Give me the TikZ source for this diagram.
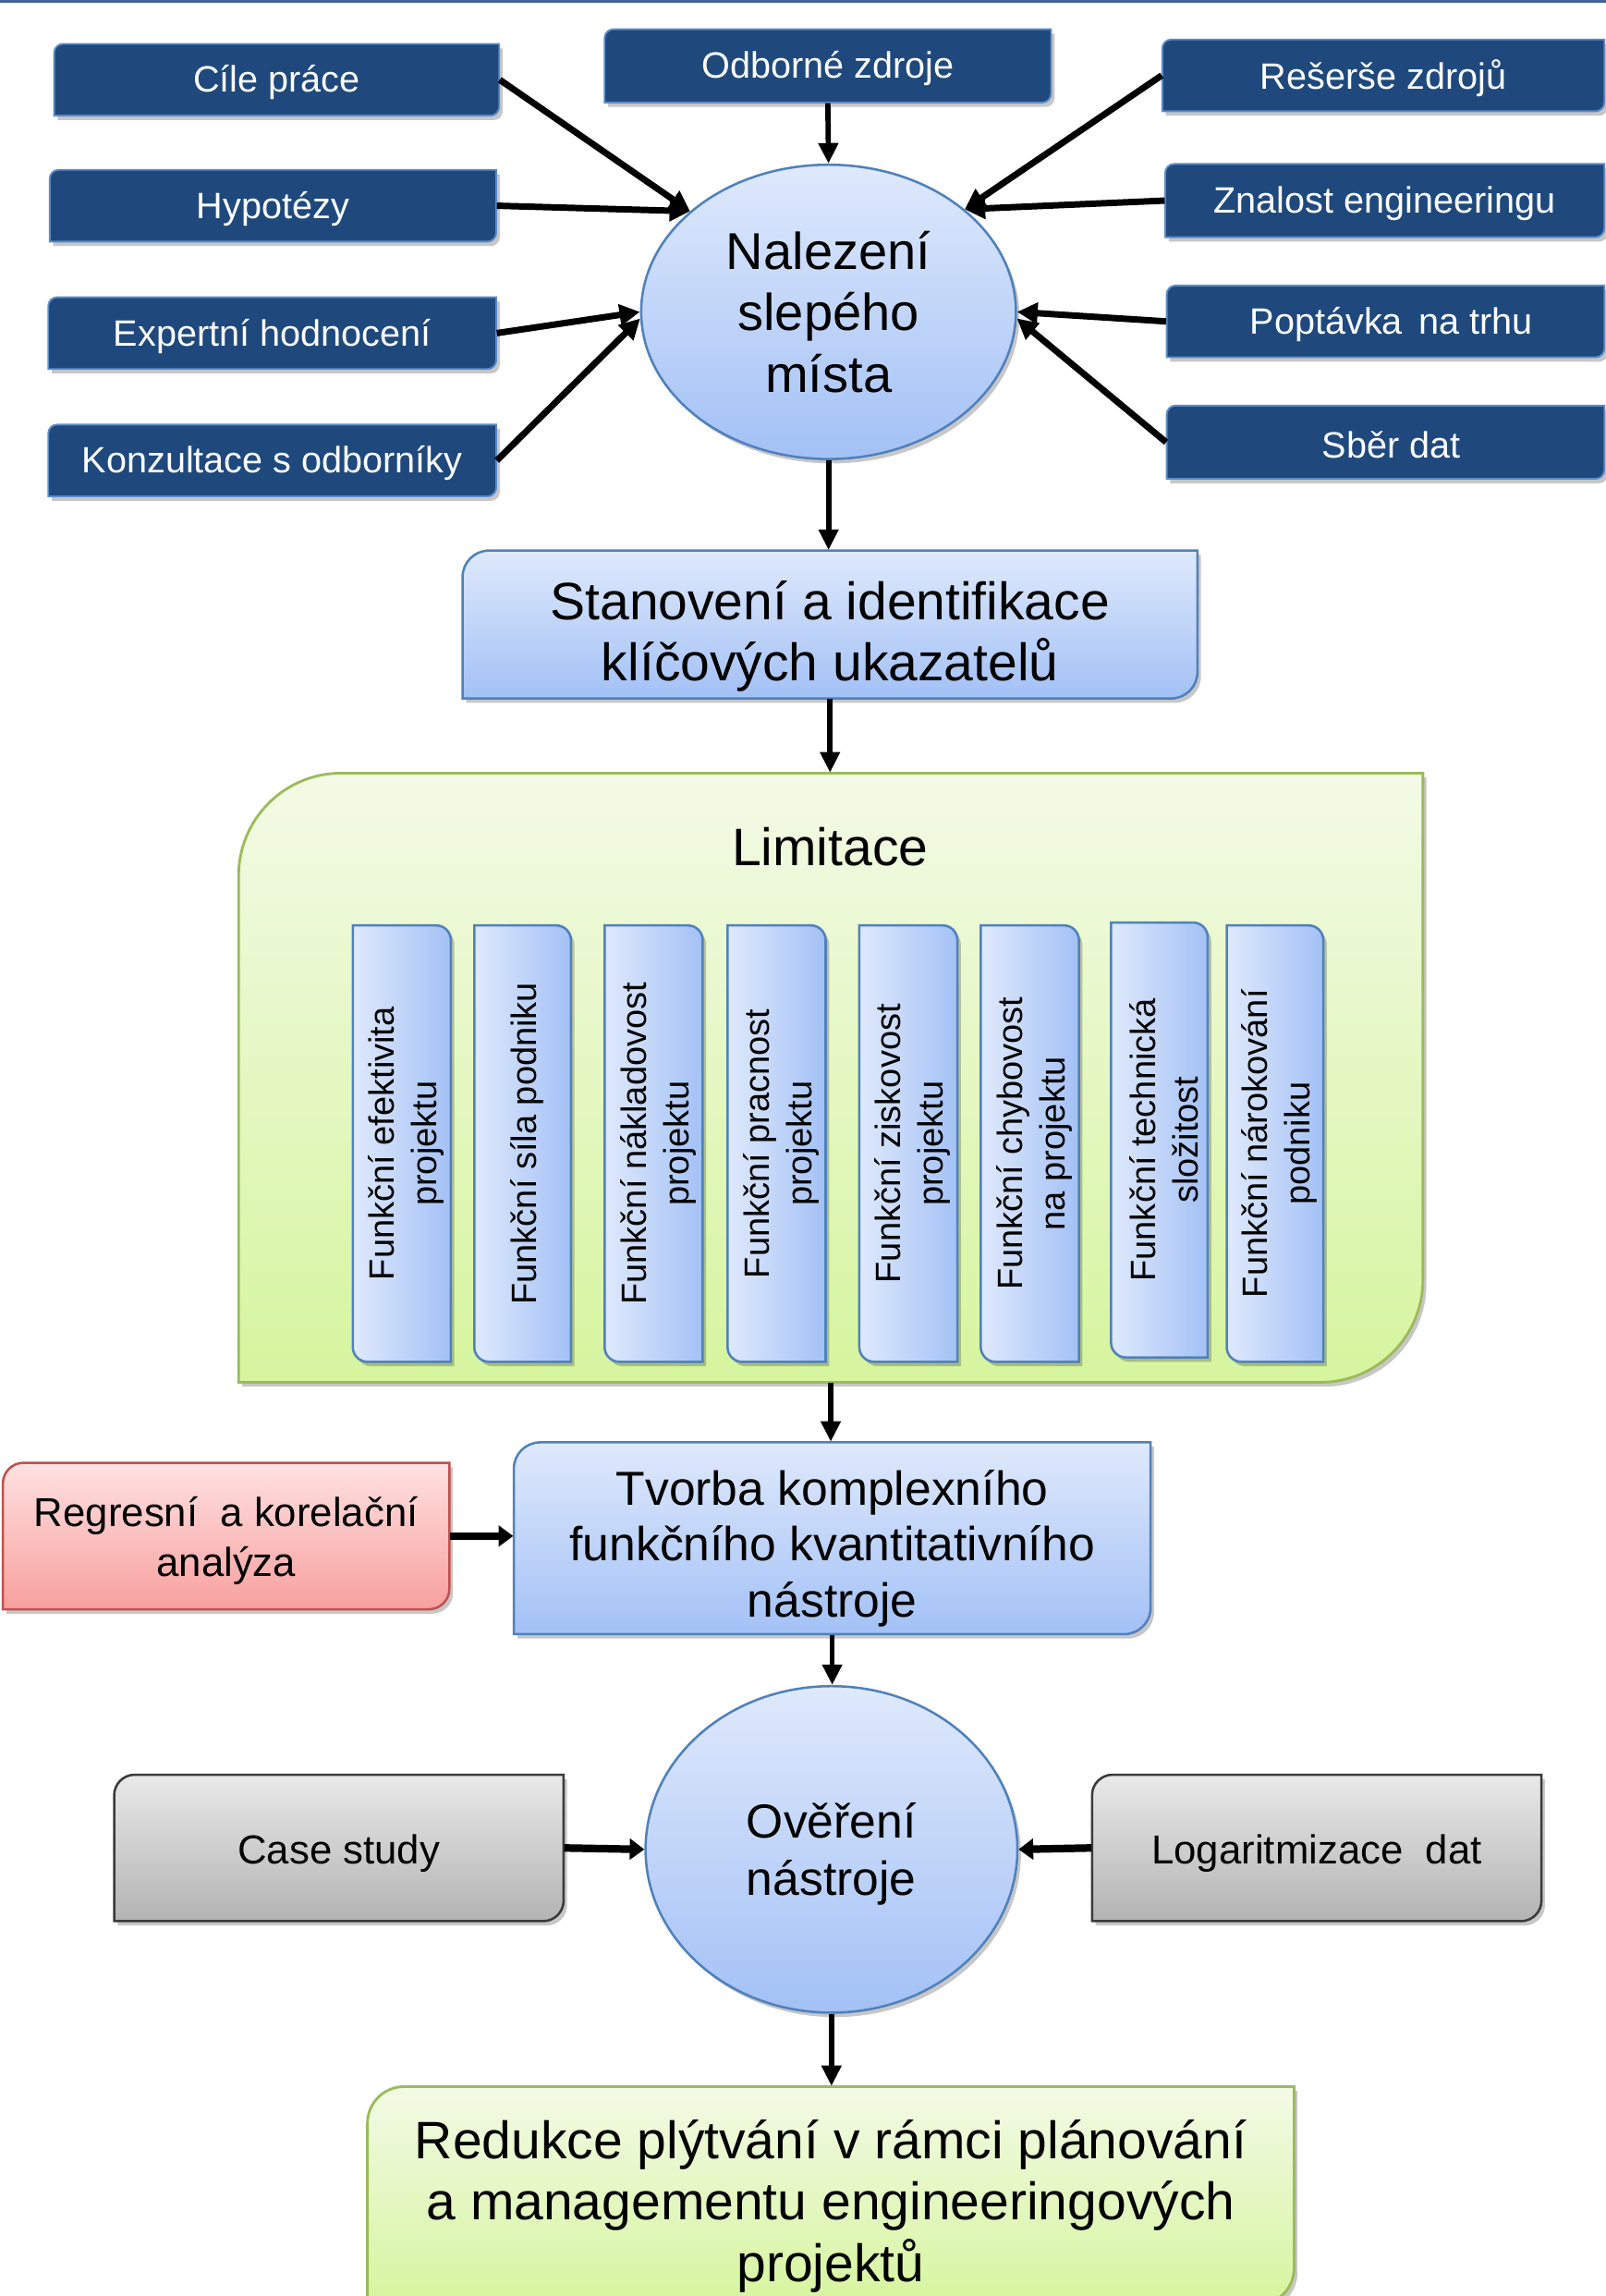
\documentclass[tikz,border=0pt]{standalone}
\usepackage{fontspec}
\setmainfont{Liberation Sans}
\usetikzlibrary{arrows.meta,shapes.geometric,shadows}

\definecolor{navy}{HTML}{1F497D}
\definecolor{navyline}{HTML}{5B8BC9}
\definecolor{blueA}{HTML}{DFE9FC}
\definecolor{blueB}{HTML}{A3C1F6}
\definecolor{blueline}{HTML}{4F81BD}
\definecolor{greenA}{HTML}{F3FAE6}
\definecolor{greenB}{HTML}{D6F59E}
\definecolor{greenline}{HTML}{9BBB59}
\definecolor{redA}{HTML}{FFE1E1}
\definecolor{redB}{HTML}{F7A09E}
\definecolor{redline}{HTML}{C0504D}
\definecolor{grayA}{HTML}{E9E9E9}
\definecolor{grayB}{HTML}{B3B3B3}
\definecolor{grayline}{HTML}{3A3A3A}
\definecolor{topline}{HTML}{3F6497}

\tikzset{
  shadowed/.style={drop shadow={shadow xshift=1.2pt, shadow yshift=-1.5pt, opacity=0.22, fill=black}},
  navybox/.style={fill=navy, draw=navyline, line width=0.6pt, shadowed},
  bluebox/.style={top color=blueA, bottom color=blueB, draw=blueline, line width=0.8pt, shadowed},
  vbluebox/.style={left color=blueA, right color=blueB, draw=blueline, line width=0.8pt, shadowed},
  greenbox/.style={top color=greenA, bottom color=greenB, draw=greenline, line width=0.9pt, shadowed},
  redbox/.style={top color=redA, bottom color=redB, draw=redline, line width=0.8pt, shadowed},
  graybox/.style={top color=grayA, bottom color=grayB, draw=grayline, line width=0.8pt, shadowed},
  navytext/.style={text=white, font=\fontsize{12.5}{15}\selectfont, align=center, yshift=-1pt},
  bigtext/.style={font=\fontsize{18}{21}\selectfont, align=center},
  midtext/.style={font=\fontsize{16.3}{19}\selectfont, align=center},
  smalltext/.style={font=\fontsize{13.8}{17}\selectfont, align=center},
  vtext/.style={font=\fontsize{12}{14.5}\selectfont, align=center, inner sep=0pt},
  arr/.style={line width=2.2pt, -{Triangle[length=7pt,width=7pt]}},
  varr/.style={line width=1.8pt, -{Triangle[length=7pt,width=6.5pt]}},
  harr/.style={line width=2.6pt, -{Triangle[length=5pt,width=7pt]}},
}

% name, x1, y1, x2, y2, radius, shape style, label style, text
\newcommand\mkdiag[9]{%
  \path[#7] (#2,{#3+#6}) .. controls (#2,{#3+0.448*#6}) and ({#2+0.448*#6},#3) .. ({#2+#6},#3)
    -- (#4,#3) -- (#4,{#5-#6}) .. controls (#4,{#5-0.448*#6}) and ({#4-0.448*#6},#5) .. ({#4-#6},#5)
    -- (#2,#5) -- cycle;
  \node[inner sep=0pt, minimum width={(#4-#2)*0.5pt}, minimum height={(#5-#3)*0.5pt}] (#1) at ({(#2+#4)/2},{(#3+#5)/2}) {};
  \node[inner sep=0pt, #8] (#1-t) at (#1.center) {#9};
}
% name, x1, x2, y1, y2, text
\newcommand\mkvert[6]{%
  \path[vbluebox] (#2,#4) -- ({#3-10},#4) .. controls ({#3-4.5},#4) and (#3,{#4+4.5}) .. (#3,{#4+10})
    -- (#3,#5) -- ({#2+10},#5) .. controls ({#2+4.5},#5) and (#2,{#5-4.5}) .. (#2,{#5-10}) -- cycle;
  \node[rotate=90, vtext] (#1) at ({(#2+#3)/2+3},{(#4+#5)/2}) {#6};
}

\begin{document}
\begin{tikzpicture}[x=0.5pt, y=-0.5pt]
\useasboundingbox[fill=white] (0,0) rectangle (1097,1568);
\draw[topline, line width=1pt] (0,1) -- (1097,1);

% source boxes
\mkdiag{cile}{37}{30}{341}{79}{6}{navybox}{navytext}{Cíle práce}
\mkdiag{hyp}{34}{116}{339}{165}{6}{navybox}{navytext}{Hypotézy}
\mkdiag{exp}{33}{203}{339}{252}{6}{navybox}{navytext}{Expertní hodnocení}
\mkdiag{kon}{33}{290}{339}{339}{6}{navybox}{navytext}{Konzultace s odborníky}
\mkdiag{odb}{413}{20}{718}{70}{6}{navybox}{navytext}{Odborné zdroje}
\mkdiag{res}{794}{27}{1096}{76}{6}{navybox}{navytext}{Rešerše zdrojů}
\mkdiag{zna}{796}{112}{1096}{162}{6}{navybox}{navytext}{Znalost engineeringu}
\mkdiag{pop}{797}{195}{1096}{244}{6}{navybox}{navytext, xshift=2pt}{Poptávka\ \,na trhu}
\mkdiag{sber}{797}{277}{1096}{327}{6}{navybox}{navytext, xshift=2pt}{Sběr dat}

% central ellipse
\node[ellipse, bluebox, minimum width=128pt, minimum height=100.5pt, inner sep=0pt,
      font=\fontsize{17.7}{21}\selectfont, align=center] (nal) at (566,213)
      {Nalezení\\slepého\\místa};

\draw[arr] (cile.east) -- (nal.144);
\draw[arr] (hyp.east) -- (nal.144);
\draw[arr] (exp.east) -- (nal.west);
\draw[arr] (kon.east) -- (nal.182);
\draw[varr] (odb.south) -- (nal.north);
\draw[arr] (res.west) -- (nal.37);
\draw[arr] (zna.west) -- (nal.37);
\draw[arr] (pop.west) -- (nal.east);
\draw[arr] (sber.west) -- (nal.-2);

% key indicators
\mkdiag{stan}{316}{376}{818}{477}{18}{bluebox}{bigtext, yshift=-4pt}{Stanovení a identifikace\\klíčových ukazatelů}
\draw[varr] (nal.south) -- (nal.south |- stan.north);

% limitations
\mkdiag{lim}{163}{528}{972}{944}{70}{greenbox}{}{}
\node[bigtext] (limt) at (567,578) {Limitace};
\draw[varr] (stan.south) -- (stan.south |- lim.north);

\mkvert{v1}{241}{308}{632}{930}{Funkční efektivita\\projektu}
\mkvert{v2}{324}{390}{632}{930}{Funkční síla podniku}
\mkvert{v3}{413}{480}{632}{930}{Funkční nákladovost\\projektu}
\mkvert{v4}{497}{564}{632}{930}{Funkční pracnost\\projektu}
\mkvert{v5}{587}{654}{632}{930}{Funkční ziskovost\\projektu}
\mkvert{v6}{670}{737}{632}{930}{Funkční chybovost\\na projektu}
\mkvert{v7}{759}{825}{630}{927}{Funkční technická\\složitost}
\mkvert{v8}{838}{904}{632}{930}{Funkční nárokování\\podniku}

% tool creation
\mkdiag{tvo}{351}{985}{786}{1116}{18}{bluebox}{midtext, yshift=-3.5pt}{Tvorba komplexního\\funkčního kvantitativního\\nástroje}
\draw[varr] (lim.south) -- (lim.south |- tvo.north);

\mkdiag{reg}{2}{999}{307}{1099}{14}{redbox}{smalltext, yshift=-1.5pt}{Regresní\ \ a korelační\\analýza}
\draw[harr] (reg.east) -- (reg.east -| tvo.west);

% verification
\node[ellipse, bluebox, minimum width=127pt, minimum height=111.5pt, inner sep=0pt] (over) at (568,1263) {};
\node[font=\fontsize{16.3}{19.5}\selectfont, align=center, inner sep=0pt] (over-t) at ([yshift=-1.5pt]over.center) {Ověření\\nástroje};
\draw[varr] (tvo.south) -- (tvo.south |- over.north);

\mkdiag{case}{78}{1212}{385}{1312}{14}{graybox}{smalltext, yshift=-2pt}{Case study}
\mkdiag{log}{746}{1212}{1053}{1312}{14}{graybox}{smalltext, yshift=-2pt}{Logaritmizace\ \ dat}
\draw[harr] (case.east) -- (over.west);
\draw[harr] (log.west) -- (over.east);

% result
\mkdiag{redu}{251}{1425}{884}{1574}{25}{greenbox}{bigtext, yshift=-3.5pt}{Redukce plýtvání v rámci plánování\\a managementu engineeringových\\projektů}
\draw[varr] (over.south) -- (over.south |- redu.north);
\end{tikzpicture}
\end{document}
